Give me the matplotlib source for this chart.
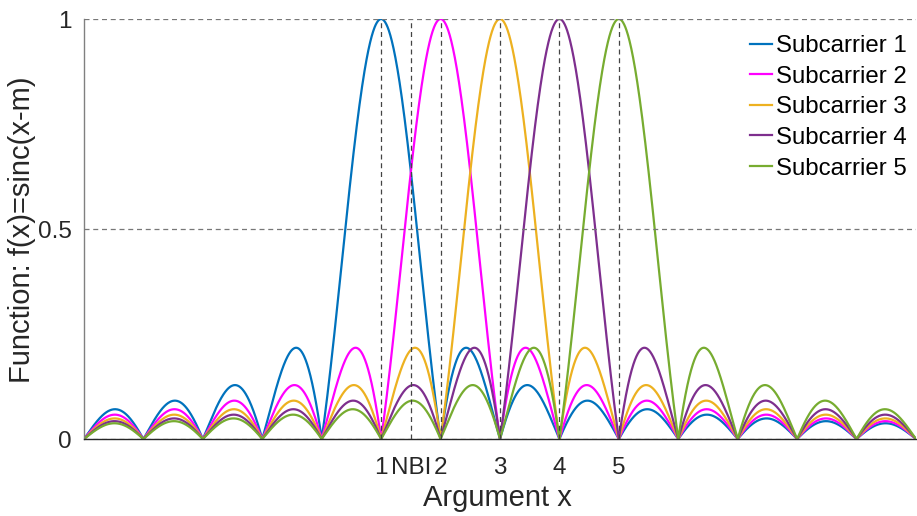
import numpy as np
import matplotlib
matplotlib.use("Agg")
import matplotlib.pyplot as plt

plt.rcParams['font.family'] = ['Liberation Sans', 'DejaVu Sans']

# subcarrier centres m and the plotted range of x
centers = [1, 2, 3, 4, 5]
labels = ["Subcarrier 1", "Subcarrier 2", "Subcarrier 3", "Subcarrier 4", "Subcarrier 5"]
colors = ["#0072BD", "#FF00FF", "#EDB120", "#7E2F8E", "#77AC30"]
x_min, x_max = -4, 10
xtick_pos = [1, 1.5, 2, 3, 4, 5]
xtick_lab = ["1", "NBI", "2", "3", "4", "5"]
ytick_pos = [0, 0.5, 1]
ytick_lab = ["0", "0.5", "1"]

x = np.linspace(x_min, x_max, 2801)

fig = plt.figure(figsize=(9.17, 5.16), dpi=100)
ax = fig.add_axes([84/917, 77/516, 832/917, 420/516])

for m, lab, c in zip(centers, labels, colors):
    ax.plot(x, np.abs(np.sinc(x - m)), color=c, lw=1.6, label=lab, zorder=2)

# dashed grid drawn on top, like the original
for xv in xtick_pos:
    ax.axvline(xv, color="#444444", lw=0.9, ls=(0, (4, 3)), zorder=3)
for yv in ytick_pos:
    ax.axhline(yv, color="#777777", lw=0.9, ls=(0, (4, 3)), zorder=3)

ax.set_xlim(x_min, x_max)
ax.set_ylim(0, 1)
ax.set_xticks(xtick_pos)
ax.set_xticklabels(xtick_lab)
ax.set_yticks(ytick_pos)
ax.set_yticklabels(ytick_lab)
ax.tick_params(axis="y", length=0, labelsize=17.5, colors="#262626", pad=9)
ax.tick_params(axis="x", length=0, labelsize=17.5, colors="#262626", pad=13)

ax.spines["top"].set_visible(False)
ax.spines["right"].set_visible(False)
ax.spines["left"].set_color("#808080")
ax.spines["bottom"].set_color("#262626")
ax.spines["left"].set_linewidth(1.0)
ax.spines["bottom"].set_linewidth(1.0)

fig.text(497/917, 1 - 498/516, "Argument x", ha="center", va="center",
         fontsize=21, color="#262626")
fig.text(22/917, 1 - 230/516, "Function: f(x)=sinc(x-m)", ha="center", va="center",
         rotation=90, fontsize=21, color="#262626")

leg = ax.legend(loc="upper right", frameon=False, fontsize=17.3, handlelength=0.9,
                handletextpad=0.15, labelspacing=0.36, borderaxespad=0.0,
                bbox_to_anchor=(1.0, 0.985))

fig.savefig("out.png", dpi=100)
